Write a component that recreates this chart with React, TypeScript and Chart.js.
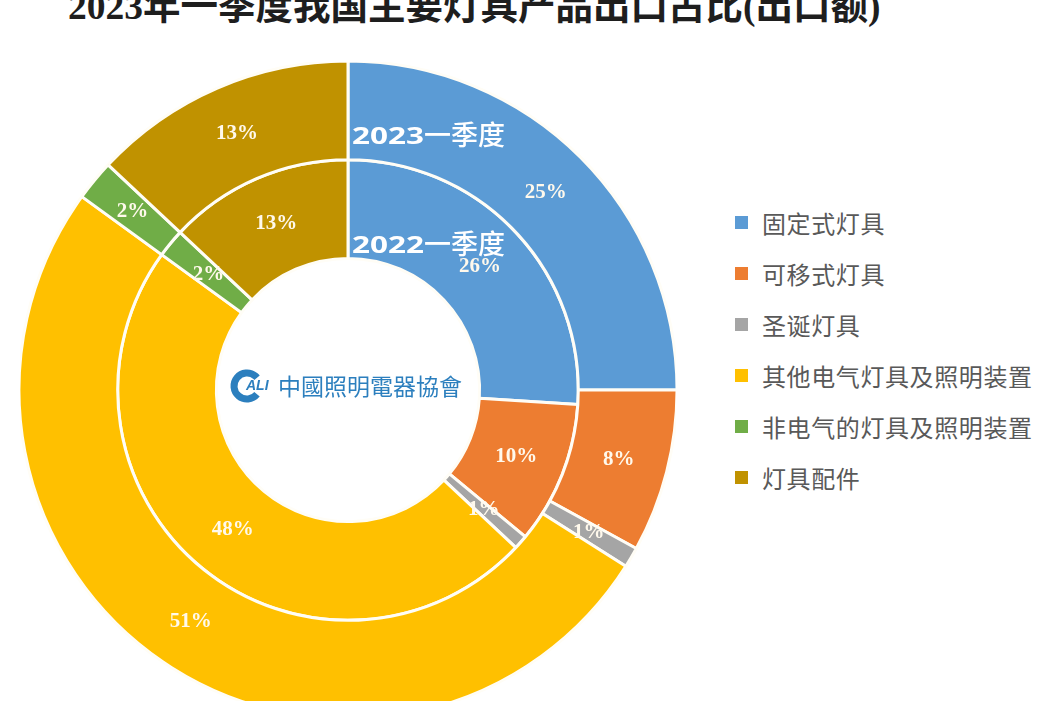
import React, { useEffect, useRef } from "react";
import { Chart, registerables } from "chart.js";

Chart.register(...registerables);

const titleText = "2023年一季度我国主要灯具产品出口占比(出口额)";
const categories = [
  "固定式灯具",
  "可移式灯具",
  "圣诞灯具",
  "其他电气灯具及照明装置",
  "非电气的灯具及照明装置",
  "灯具配件",
];
const share2023 = [25, 8, 1, 51, 2, 13];
const share2022 = [26, 10, 1, 48, 2, 13];
const seriesYears = ["2023", "2022"];
const seriesSuffix = "一季度";
const colors = ["#5B9BD5", "#ED7D31", "#A5A5A5", "#FFC000", "#70AD47", "#C09200"];
const logoLetters = "ALI";
const logoText = "中國照明電器協會";

const labelPlugin = {
  id: "ringLabels",
  afterDatasetsDraw(chart: any) {
    const ctx = chart.ctx as CanvasRenderingContext2D;
    ctx.save();
    let cx = 0;
    let cy = 0;
    const ringTops: number[] = [];
    chart.data.datasets.forEach((ds: any, di: number) => {
      const meta = chart.getDatasetMeta(di);
      meta.data.forEach((arc: any, i: number) => {
        const p = arc.getProps(["x", "y", "startAngle", "endAngle", "innerRadius", "outerRadius"], true);
        cx = p.x;
        cy = p.y;
        if (i === 0) ringTops.push(p.outerRadius);
        const a = (p.startAngle + p.endAngle) / 2;
        const r = (p.innerRadius + p.outerRadius) / 2;
        const x = p.x + Math.cos(a) * r;
        const y = p.y + Math.sin(a) * r;
        ctx.font = "bold 21px 'Liberation Serif', 'Times New Roman', serif";
        ctx.fillStyle = "#FFF9EC";
        ctx.textAlign = "center";
        ctx.textBaseline = "middle";
        ctx.fillText(ds.data[i] + "%", x, y);
      });
    });
    // series names inside the rings
    const nameOffsets = [83, 93];
    ringTops.forEach((rt, di) => {
      const baseY = cy - rt + nameOffsets[di];
      let x = cx + 4;
      ctx.textBaseline = "alphabetic";
      ctx.textAlign = "left";
      ctx.fillStyle = "#FFFFFF";
      ctx.font = "bold 24px 'Noto Sans', 'DejaVu Sans', sans-serif";
      const w = ctx.measureText(seriesYears[di]).width;
      const target = 72;
      ctx.save();
      ctx.translate(x, baseY);
      ctx.scale(target / w, 1);
      ctx.fillText(seriesYears[di], 0, 0);
      ctx.restore();
      x += target;
      ctx.font = "500 27px 'Noto Sans CJK SC', sans-serif";
      ctx.fillText(seriesSuffix, x, baseY + 1);
    });
    // logo
    const lx = cx - 101;
    const ly = cy - 4;
    ctx.strokeStyle = "#2C7FBE";
    ctx.lineWidth = 7;
    ctx.beginPath();
    ctx.arc(lx, ly, 13, Math.PI * 0.22, Math.PI * 1.78);
    ctx.stroke();
    ctx.fillStyle = "#2C7FBE";
    ctx.font = "italic bold 14px 'Liberation Sans', Arial, sans-serif";
    ctx.textAlign = "left";
    ctx.textBaseline = "middle";
    ctx.fillText(logoLetters, lx - 1, ly);
    ctx.font = "23px 'Noto Sans CJK TC', sans-serif";
    ctx.fillText(logoText, cx - 70, ly);
    ctx.restore();
  },
};

export default function App() {
  const ref = useRef<HTMLCanvasElement | null>(null);
  useEffect(() => {
    if (!ref.current) return;
    const chart = new Chart(ref.current, {
      type: "doughnut",
      data: {
        labels: categories,
        datasets: [
          {
            label: seriesYears[0] + seriesSuffix,
            data: share2023,
            backgroundColor: colors,
            borderColor: "#FFFDF6",
            borderWidth: 3,
            hoverOffset: 0,
          },
          {
            label: seriesYears[1] + seriesSuffix,
            data: share2022,
            backgroundColor: colors,
            borderColor: "#FFFDF6",
            borderWidth: 3,
            hoverOffset: 0,
          },
        ],
      },
      options: {
        responsive: false,
        animation: false,
        radius: 329,
        cutout: "40%",
        layout: { padding: 0 },
        plugins: {
          legend: { display: false },
          tooltip: { enabled: false },
          title: { display: false },
        },
      },
      plugins: [labelPlugin],
    });
    return () => chart.destroy();
  }, []);

  return (
    <div
      style={{
        position: "fixed",
        left: 0,
        top: 0,
        width: 1052,
        height: 701,
        overflow: "hidden",
        background: "#FFFFFF",
      }}
    >
      <div
        style={{
          position: "absolute",
          left: 68,
          top: -12,
          fontSize: 37.5,
          lineHeight: "37px",
          fontWeight: "bold",
          fontFamily: "'Liberation Serif', 'Noto Sans CJK SC', serif",
          color: "#1E1E1E",
          whiteSpace: "nowrap",
        }}
      >
        {titleText}
      </div>
      <canvas
        ref={ref}
        width={656}
        height={656}
        style={{ position: "absolute", left: 20, top: 62, width: 656, height: 656 }}
      />
      <div style={{ position: "absolute", left: 735, top: 197 }}>
        {categories.map((c, i) => (
          <div key={c} style={{ display: "flex", alignItems: "center", height: 51 }}>
            <span
              style={{
                display: "inline-block",
                width: 13,
                height: 13,
                background: colors[i],
                marginRight: 14,
              }}
            />
            <span
              style={{
                fontSize: 24,
                letterSpacing: 0.6,
                color: "#595959",
                fontFamily: "'Noto Sans CJK SC', sans-serif",
                whiteSpace: "nowrap",
              }}
            >
              {c}
            </span>
          </div>
        ))}
      </div>
    </div>
  );
}
